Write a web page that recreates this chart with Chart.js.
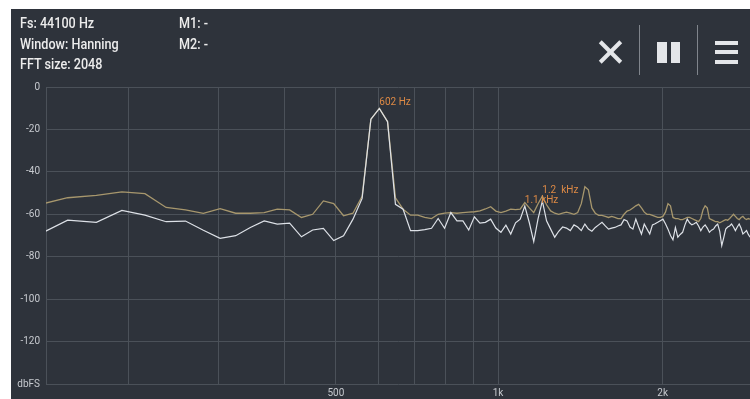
<!DOCTYPE html>
<html>
<head>
<meta charset="utf-8">
<script src="https://cdn.jsdelivr.net/npm/chart.js@4.4.1/dist/chart.umd.min.js"></script>
<style>
  html, body { margin: 0; padding: 0; background: #fff; }
  #wrap { position: relative; width: 750px; height: 399px; overflow: hidden; }
  #panel { position: absolute; left: 11px; top: 9px; width: 739px; height: 390px; background: #2e333b; }
  #spectrum { position: absolute; left: 0; top: 0; }
  .info { position: absolute; font-family: Roboto, sans-serif; font-size: 14.5px; font-weight: 500; line-height: 16px; color: #ececec; white-space: nowrap; transform: scaleX(0.87); transform-origin: left top; }
  .ico { position: absolute; background: #e4e6e9; }
  .sep { position: absolute; width: 1px; background: #80858c; top: 25px; height: 50px; }
</style>
</head>
<body>
<div id="wrap">
  <div id="panel"></div>
  <canvas id="spectrum" width="750" height="399"></canvas>

  <div class="info" style="left:20px; top:16px;">Fs: 44100 Hz</div>
  <div class="info" style="left:20px; top:37px;">Window: Hanning</div>
  <div class="info" style="left:20px; top:57px;">FFT size: 2048</div>
  <div class="info" style="left:179px; top:16px;">M1: -</div>
  <div class="info" style="left:179px; top:37px;">M2: -</div>

  <!-- botões: fechar / pausa / menu -->
  <div class="ico" style="left:596px; top:50px; width:29px; height:4px; transform:rotate(45deg);"></div>
  <div class="ico" style="left:596px; top:50px; width:29px; height:4px; transform:rotate(-45deg);"></div>
  <div class="sep" style="left:639px;"></div>
  <div class="ico" style="left:657px; top:42px; width:10px; height:21px;"></div>
  <div class="ico" style="left:671px; top:42px; width:9px; height:21px;"></div>
  <div class="sep" style="left:697px;"></div>
  <div class="ico" style="left:715px; top:41px; width:23px; height:4px;"></div>
  <div class="ico" style="left:715px; top:50px; width:23px; height:4px;"></div>
  <div class="ico" style="left:715px; top:60px; width:23px; height:4px;"></div>
</div>

<script>
// bins da FFT (Hz), de 129 Hz até 2.9 kHz
const binHz = [
  129.2, 150.7, 172.3, 193.8, 215.3, 236.9, 258.4, 279.9, 301.5, 323.0,
  344.5, 366.1, 387.6, 409.1, 430.7, 452.2, 473.7, 495.3, 516.8, 538.3,
  559.9, 581.4, 602.9, 624.5, 646.0, 667.5, 689.1, 710.6, 732.1, 753.7,
  775.2, 796.7, 818.3, 839.8, 861.3, 882.9, 904.4, 925.9, 947.5, 969.0,
  990.5, 1012.1, 1033.6, 1055.1, 1076.7, 1098.2, 1119.7, 1141.3, 1162.8, 1184.3,
  1205.9, 1227.4, 1248.9, 1270.5, 1292.0, 1313.5, 1335.1, 1356.6, 1378.1, 1399.7,
  1421.2, 1442.7, 1464.3, 1485.8, 1507.3, 1528.9, 1550.4, 1571.9, 1593.5, 1615.0,
  1636.5, 1658.1, 1679.6, 1701.1, 1722.7, 1744.2, 1765.7, 1787.3, 1808.8, 1830.3,
  1851.9, 1873.4, 1894.9, 1916.5, 1938.0, 1959.5, 1981.0, 2002.6, 2024.1, 2045.6,
  2067.2, 2088.7, 2110.2, 2131.8, 2153.3, 2174.8, 2196.4, 2217.9, 2239.4, 2261.0,
  2282.5, 2304.0, 2325.6, 2347.1, 2368.7, 2390.2, 2411.7, 2433.3, 2454.8, 2476.3,
  2497.9, 2519.4, 2540.9, 2562.5, 2584.0, 2605.5, 2627.1, 2648.6, 2670.1, 2691.7,
  2713.2, 2734.7, 2756.3, 2777.8, 2799.3, 2820.9, 2842.4, 2863.9, 2885.4
];

// espectro atual (linha branca), dBFS
const liveDb = [
  -70.4, -62.8, -63.8, -58.2, -60.4, -63.5, -63.2, -67.5, -71.3, -70.1,
  -66.2, -63.1, -64.6, -64.2, -70.6, -67.4, -66.6, -72.4, -70.1, -62.3,
  -52.5, -15.2, -10.1, -16.3, -55.3, -57.6, -67.7, -67.7, -67.2, -66.6,
  -62.0, -66.6, -59.2, -63.1, -63.1, -67.4, -61.2, -64.2, -63.8, -62.3,
  -66.5, -68.5, -65.1, -69.3, -64.0, -62.3, -56.1, -64.0, -72.9, -62.0,
  -53.7, -63.1, -67.0, -70.8, -68.0, -66.0, -66.5, -67.7, -65.0, -66.0,
  -67.7, -64.6, -67.0, -68.0, -66.2, -65.0, -63.8, -65.5, -67.0, -66.5,
  -66.2, -65.5, -65.0, -62.5, -63.1, -66.0, -67.0, -62.3, -66.0, -69.3,
  -64.6, -67.0, -69.3, -65.0, -64.5, -63.8, -63.0, -62.3, -64.5, -67.0,
  -70.0, -72.0, -66.2, -70.8, -69.5, -68.5, -65.0, -62.3, -64.0, -65.0,
  -64.5, -63.8, -65.5, -67.7, -66.0, -65.0, -66.5, -68.5, -67.5, -67.0,
  -65.5, -64.6, -68.0, -74.8, -71.0, -67.0, -66.0, -65.5, -64.6, -66.0,
  -67.7, -66.0, -64.6, -66.5, -69.3, -68.5, -67.7, -69.5, -70.8
];

// pico retido (linha bege), dBFS
const holdDb = [
  -55.9, -52.2, -51.1, -49.4, -50.3, -56.8, -57.9, -59.6, -57.3, -59.5,
  -59.5, -59.2, -57.6, -57.9, -61.5, -60.0, -53.7, -55.0, -60.7, -59.5,
  -51.5, -15.2, -10.1, -16.3, -52.2, -57.6, -60.4, -60.4, -61.5, -62.0,
  -60.0, -59.5, -59.2, -59.5, -59.2, -59.0, -58.8, -58.4, -57.5, -56.4,
  -58.5, -59.2, -58.5, -57.6, -57.8, -57.6, -54.5, -57.0, -59.2, -55.0,
  -51.4, -55.5, -58.4, -59.5, -60.0, -59.5, -59.0, -59.5, -60.0, -59.2,
  -55.0, -47.0, -48.5, -57.0, -59.5, -60.5, -60.5, -61.0, -61.5, -61.0,
  -61.5, -62.0, -62.0, -60.0, -58.5, -58.0, -57.0, -56.0, -55.3, -57.0,
  -59.0, -60.0, -60.0, -60.5, -61.0, -61.5, -61.5, -61.0, -59.0, -55.0,
  -56.0, -61.5, -62.0, -62.0, -62.5, -62.5, -62.0, -61.5, -61.5, -62.0,
  -62.5, -63.0, -63.5, -62.0, -58.0, -56.0, -57.0, -62.0, -62.5, -63.0,
  -63.5, -63.5, -64.0, -63.5, -63.0, -62.5, -62.8, -62.0, -61.0, -60.0,
  -61.0, -62.0, -62.5, -61.5, -61.0, -62.0, -62.5, -62.0, -62.3
];

// marcadores de pico
const peakHz = [602.9, 1205.9, 1119.7];
const peakDb = [-10.1, -51.4, -56.1];
const peakText = ['602 Hz', '1.2  kHz', '1.1 kHz'];

// eixos
const gridHz = [200, 300, 400, 500, 600, 700, 800, 900, 1000, 2000];
const xLabelHz = [500, 1000, 2000];
const xLabelText = ['500', '1k', '2k'];
const yTicks = [-140, -120, -100, -80, -60, -40, -20, 0];
const yLabelText = ['dbFS', '-120', '-100', '-80', '-60', '-40', '-20', '0'];

const GRID = '#4b5159';
const TICK = '#c6c9ce';

// escala de frequência "quase log" (log de f + 20 Hz), como no app
const FREQ_OFFSET = 20;
class FreqScale extends Chart.LinearScale {
    _t(v) { return Math.log(v + FREQ_OFFSET); }
    getPixelForValue(v) {
        const a = this._t(this.min), b = this._t(this.max);
        return this.getPixelForDecimal((this._t(v) - a) / (b - a));
    }
    getValueForPixel(p) {
        const a = this._t(this.min), b = this._t(this.max);
        return Math.exp(a + this.getDecimalForPixel(p) * (b - a)) - FREQ_OFFSET;
    }
}
FreqScale.id = 'freq';
FreqScale.defaults = {};
Chart.register(FreqScale);

const peakLabels = {
    id: 'peakLabels',
    afterDatasetsDraw(chart) {
        const { ctx, scales: { x, y } } = chart;
        ctx.save();
        ctx.font = '10px Roboto';
        ctx.fillStyle = '#de8a45';
        ctx.textAlign = 'left';
        ctx.textBaseline = 'alphabetic';
        peakHz.forEach((f, i) => {
            ctx.fillText(peakText[i], x.getPixelForValue(f), y.getPixelForValue(peakDb[i]) - 3);
        });
        ctx.restore();
    }
};

Chart.defaults.font.family = 'Roboto';

new Chart(document.getElementById('spectrum'), {
    type: 'line',
    data: {
        datasets: [
            {
                label: 'live',
                data: binHz.map((f, i) => ({ x: f, y: liveDb[i] })),
                borderColor: '#dde1e7',
                borderWidth: 1.2,
                pointRadius: 0,
                tension: 0
            },
            {
                label: 'hold',
                data: binHz.map((f, i) => ({ x: f, y: holdDb[i] })),
                borderColor: '#a7976d',
                borderWidth: 1.3,
                pointRadius: 0,
                tension: 0
            }
        ]
    },
    options: {
        responsive: false,
        animation: false,
        devicePixelRatio: 1,
        layout: { padding: { top: 87, left: 0, right: 0, bottom: 0 } },
        plugins: { legend: { display: false }, tooltip: { enabled: false } },
        scales: {
            x: {
                type: 'freq',
                min: 136,
                max: 2884,
                bounds: 'data',
                afterBuildTicks: s => { s.ticks = gridHz.map(v => ({ value: v })); },
                afterFit: s => { s.height = 15; },
                grid: { color: GRID, drawTicks: false },
                border: { display: false },
                ticks: {
                    autoSkip: false,
                    maxRotation: 0,
                    padding: 3,
                    color: TICK,
                    font: { size: 10 },
                    callback: v => {
                        const i = xLabelHz.indexOf(v);
                        return i >= 0 ? xLabelText[i] : '';
                    }
                }
            },
            y: {
                min: -140,
                max: 0,
                afterBuildTicks: s => { s.ticks = yTicks.map(v => ({ value: v })); },
                afterFit: s => { s.width = 46; },
                grid: { color: GRID, drawTicks: false },
                border: { display: true, color: GRID },
                ticks: {
                    padding: 6,
                    color: TICK,
                    font: { size: 10 },
                    callback: v => yLabelText[yTicks.indexOf(v)]
                }
            }
        }
    },
    plugins: [peakLabels]
});
</script>
</body>
</html>
